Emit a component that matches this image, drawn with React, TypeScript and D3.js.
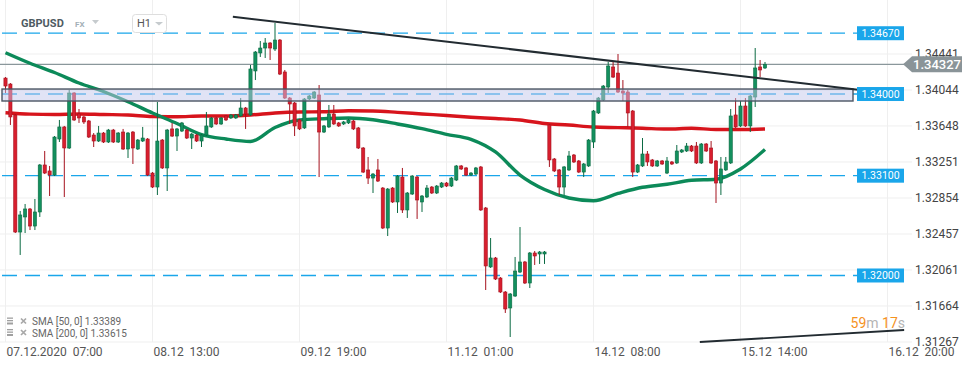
import * as d3 from "d3";

const W = 974;
const H = 368;

// hourly candles, 07.12.2020 07:00 onward
const opens = [
  1.34176, 1.34110, 1.33769, 1.32479, 1.32645, 1.32733, 1.32545, 1.32700, 1.33218, 1.33152,
  1.33107, 1.33504, 1.33637, 1.33405, 1.34011, 1.33780, 1.33747, 1.33703, 1.33548, 1.33482,
  1.33570, 1.33471, 1.33603, 1.33471, 1.33581, 1.33394, 1.33581, 1.33394, 1.33482, 1.33504,
  1.33129, 1.32975, 1.33493, 1.33185, 1.33615, 1.33537, 1.33592, 1.33603, 1.33515, 1.33548,
  1.33482, 1.33548, 1.33637, 1.33736, 1.33670, 1.33758, 1.33736, 1.33736, 1.33758, 1.33846,
  1.33769, 1.34254, 1.34452, 1.34507, 1.34562, 1.34496, 1.34595, 1.34243, 1.33956, 1.33901,
  1.33714, 1.33626, 1.33945, 1.33956, 1.33989, 1.33581, 1.33637, 1.33780, 1.33681, 1.33670,
  1.33681, 1.33703, 1.33626, 1.33405, 1.33163, 1.33074, 1.33163, 1.32964, 1.32523, 1.32964,
  1.32810, 1.33085, 1.32722, 1.32898, 1.33085, 1.32810, 1.32865, 1.32975, 1.32909, 1.32975,
  1.33019, 1.32986, 1.33052, 1.33207, 1.33185, 1.33107, 1.33118, 1.33196, 1.32744, 1.32094,
  1.32193, 1.31972, 1.31818, 1.31642, 1.31774, 1.32038, 1.32149, 1.31917, 1.32248, 1.32237,
  1.32237, 1.33659, 1.33284, 1.33163, 1.32975, 1.33163, 1.33328, 1.33262, 1.33140, 1.33207,
  1.33471, 1.33791, 1.33934, 1.34077, 1.34298, 1.34231, 1.34033, 1.34022, 1.33813, 1.33140,
  1.33207, 1.33339, 1.33273, 1.33207, 1.33262, 1.33129, 1.33251, 1.33240, 1.33361, 1.33372,
  1.33427, 1.33427, 1.33240, 1.33449, 1.33405, 1.33262, 1.33019, 1.33163, 1.33240, 1.33769,
  1.33648, 1.33868, 1.33648, 1.33967, 1.34298, 1.34287,
];
const highs = [
  1.34187, 1.34121, 1.33780, 1.32711, 1.32788, 1.32744, 1.32843, 1.33229, 1.33372, 1.33207,
  1.33537, 1.33714, 1.33648, 1.34044, 1.34022, 1.33835, 1.33758, 1.33714, 1.33570, 1.33648,
  1.33581, 1.33615, 1.33615, 1.33581, 1.33615, 1.33581, 1.33592, 1.33504, 1.33637, 1.33515,
  1.33140, 1.33912, 1.33504, 1.33615, 1.33681, 1.33626, 1.33692, 1.33615, 1.33570, 1.33559,
  1.33559, 1.33802, 1.33747, 1.33747, 1.33747, 1.33769, 1.33780, 1.33780, 1.33956, 1.33857,
  1.34320, 1.34474, 1.34584, 1.34617, 1.34573, 1.34783, 1.34606, 1.34265, 1.33967, 1.33912,
  1.33725, 1.33956, 1.33989, 1.34033, 1.34099, 1.33659, 1.33879, 1.33879, 1.33692, 1.33703,
  1.33725, 1.33714, 1.33637, 1.33416, 1.33306, 1.33129, 1.33284, 1.32975, 1.32964, 1.32975,
  1.33107, 1.33185, 1.32920, 1.33107, 1.33096, 1.32887, 1.32997, 1.32986, 1.32997, 1.33030,
  1.33030, 1.33085, 1.33218, 1.33218, 1.33196, 1.33140, 1.33196, 1.33207, 1.32755, 1.32413,
  1.32204, 1.31983, 1.31829, 1.31807, 1.32204, 1.32534, 1.32160, 1.32259, 1.32270, 1.32270,
  1.32270, 1.33670, 1.33295, 1.33174, 1.33207, 1.33372, 1.33339, 1.33273, 1.33240, 1.33504,
  1.33824, 1.33967, 1.34099, 1.34353, 1.34364, 1.34441, 1.34154, 1.34044, 1.33824, 1.33229,
  1.33515, 1.33372, 1.33284, 1.33273, 1.33273, 1.33306, 1.33262, 1.33438, 1.33394, 1.33460,
  1.33438, 1.33471, 1.33460, 1.33460, 1.33482, 1.33273, 1.33306, 1.33306, 1.33835, 1.33956,
  1.33923, 1.33956, 1.33989, 1.34507, 1.34375, 1.34353,
];
const lows = [
  1.34011, 1.33659, 1.32468, 1.32226, 1.32468, 1.32501, 1.32501, 1.32645, 1.33118, 1.32876,
  1.33096, 1.33471, 1.32865, 1.33394, 1.33703, 1.33681, 1.33670, 1.33515, 1.33416, 1.33471,
  1.33460, 1.33460, 1.33460, 1.33460, 1.33383, 1.33295, 1.33229, 1.33383, 1.33471, 1.33096,
  1.32964, 1.32887, 1.33174, 1.32931, 1.33526, 1.33372, 1.33581, 1.33504, 1.33394, 1.33471,
  1.33416, 1.33537, 1.33626, 1.33659, 1.33659, 1.33703, 1.33725, 1.33725, 1.33747, 1.33615,
  1.33758, 1.34154, 1.34408, 1.34397, 1.34375, 1.34474, 1.34209, 1.33945, 1.33670, 1.33537,
  1.33603, 1.33615, 1.33934, 1.33945, 1.33085, 1.33570, 1.33626, 1.33659, 1.33637, 1.33659,
  1.33670, 1.33603, 1.33394, 1.33129, 1.33008, 1.32909, 1.33030, 1.32512, 1.32435, 1.32799,
  1.32689, 1.32689, 1.32634, 1.32887, 1.32623, 1.32700, 1.32854, 1.32898, 1.32898, 1.32964,
  1.32975, 1.32975, 1.33041, 1.33163, 1.33096, 1.33096, 1.33107, 1.32711, 1.31840, 1.32083,
  1.31950, 1.31807, 1.31587, 1.31322, 1.31763, 1.32027, 1.31906, 1.31862, 1.32116, 1.32127,
  1.32127, 1.33196, 1.33140, 1.32887, 1.32887, 1.33152, 1.33240, 1.33129, 1.33085, 1.33196,
  1.33405, 1.33780, 1.33923, 1.34011, 1.34176, 1.34011, 1.33923, 1.33637, 1.33085, 1.33129,
  1.33196, 1.33207, 1.33196, 1.33196, 1.33218, 1.33118, 1.33218, 1.33229, 1.33350, 1.33361,
  1.33361, 1.33229, 1.33229, 1.33361, 1.33229, 1.32799, 1.32887, 1.33152, 1.33229, 1.33626,
  1.33637, 1.33637, 1.33581, 1.33857, 1.34187, 1.34276,
];
const closes = [
  1.34088, 1.33747, 1.32479, 1.32667, 1.32733, 1.32545, 1.32700, 1.33218, 1.33129, 1.33107,
  1.33526, 1.33637, 1.33405, 1.34011, 1.33714, 1.33736, 1.33692, 1.33526, 1.33482, 1.33570,
  1.33471, 1.33603, 1.33471, 1.33570, 1.33394, 1.33570, 1.33405, 1.33493, 1.33515, 1.33107,
  1.32975, 1.33482, 1.33185, 1.33603, 1.33537, 1.33615, 1.33681, 1.33515, 1.33559, 1.33482,
  1.33548, 1.33648, 1.33736, 1.33670, 1.33736, 1.33714, 1.33769, 1.33769, 1.33846, 1.33780,
  1.34276, 1.34463, 1.34507, 1.34562, 1.34507, 1.34595, 1.34220, 1.33956, 1.33890, 1.33648,
  1.33615, 1.33945, 1.33978, 1.34022, 1.33581, 1.33648, 1.33780, 1.33670, 1.33648, 1.33692,
  1.33714, 1.33615, 1.33405, 1.33140, 1.33074, 1.33118, 1.33041, 1.32523, 1.32953, 1.32810,
  1.33096, 1.32722, 1.32909, 1.33096, 1.32832, 1.32876, 1.32964, 1.32909, 1.32986, 1.33019,
  1.32986, 1.33074, 1.33207, 1.33174, 1.33107, 1.33129, 1.33185, 1.32722, 1.32105, 1.32193,
  1.31961, 1.31818, 1.31631, 1.31796, 1.32049, 1.32149, 1.31917, 1.32248, 1.32215, 1.32259,
  1.32259, 1.33273, 1.33152, 1.32975, 1.33196, 1.33317, 1.33251, 1.33140, 1.33229, 1.33493,
  1.33813, 1.33956, 1.34088, 1.34309, 1.34187, 1.34022, 1.34011, 1.33791, 1.33140, 1.33218,
  1.33339, 1.33251, 1.33207, 1.33262, 1.33229, 1.33262, 1.33229, 1.33372, 1.33383, 1.33427,
  1.33372, 1.33240, 1.33449, 1.33372, 1.33240, 1.33019, 1.33174, 1.33251, 1.33758, 1.33637,
  1.33868, 1.33648, 1.33978, 1.34287, 1.34265, 1.34327,
];

// moving averages read every 5 candles
const smaIdx = d3.range(0, 156, 5);
const sma50 = [
  1.34455, 1.34339, 1.34237, 1.34121, 1.34028, 1.33915, 1.33791, 1.33675, 1.33553, 1.33504,
  1.33477, 1.33631, 1.33714, 1.33728, 1.33736, 1.33716, 1.33670, 1.33618, 1.33556, 1.33501,
  1.33361, 1.33107, 1.32948, 1.32854, 1.32824, 1.32904, 1.32972, 1.33005, 1.33049, 1.33060,
  1.33174, 1.33389,
];
const sma200 = [
  1.33793, 1.33778, 1.33774, 1.33780, 1.33774, 1.33769, 1.33752, 1.33750, 1.33758, 1.33758,
  1.33769, 1.33791, 1.33802, 1.33804, 1.33816, 1.33813, 1.33798, 1.33780, 1.33763, 1.33744,
  1.33730, 1.33714, 1.33675, 1.33658, 1.33636, 1.33630, 1.33623, 1.33614, 1.33622, 1.33609,
  1.33609, 1.33615,
];

const yTicks = [1.34441, 1.34044, 1.33648, 1.33251, 1.32854, 1.32457, 1.32061, 1.31664, 1.31267];
const xTickIdx = [0, 30, 60, 90, 120, 150, 180];
const xTickLabels = [
  "07.12.2020  07:00",
  "08.12  13:00",
  "09.12  19:00",
  "11.12  01:00",
  "14.12  08:00",
  "15.12  14:00",
  "16.12  20:00",
];

const levels = [1.3467, 1.34, 1.331, 1.32];
const zone = [1.34055, 1.33923];
const lastPrice = 1.34327;
const resistance: [number, number][] = [[46.4, 1.34852], [174.4, 1.34044]];
const support: [number, number][] = [[141.7, 1.31267], [183.4, 1.31399]];

const FONT = "Roboto, 'Noto Sans', sans-serif";
const UP = "#13905e";
const UP_DARK = "#0b6a43";
const DOWN = "#d81e2e";
const DOWN_DARK = "#a5121e";
const BLUE = "#1aa6ea";

export default function App() {
  const x = d3.scaleLinear().domain([0, 180]).range([5.5, 887.5]);
  const y = d3.scaleLinear().domain([1.31267, 1.34441]).range([342, 54]);

  const smaLine = d3
    .line<number>()
    .x((_, i) => x(smaIdx[i]))
    .y((d) => y(d))
    .curve(d3.curveMonotoneX);

  const plotRight = 912;
  const tagX = 857;

  return (
    <svg
      width={W}
      height={H}
      style={{ position: "absolute", left: 0, top: 0, background: "#fff" }}
      fontFamily={FONT}
    >
      {/* grid */}
      {yTicks.map((t) => (
        <line key={"gy" + t} x1={0} x2={plotRight} y1={y(t)} y2={y(t)} stroke="#efefef" strokeWidth={1} />
      ))}
      {xTickIdx.map((t) => (
        <line key={"gx" + t} x1={x(t)} x2={x(t)} y1={0} y2={y(1.31267)} stroke="#efefef" strokeWidth={1} />
      ))}

      {/* price levels */}
      {levels.map((l) => (
        <line
          key={"lv" + l}
          x1={2}
          x2={tagX}
          y1={y(l)}
          y2={y(l)}
          stroke={BLUE}
          strokeWidth={1.3}
          strokeDasharray="15 8"
        />
      ))}

      {/* last price line */}
      <line x1={0} x2={905} y1={y(lastPrice)} y2={y(lastPrice)} stroke="#8a979b" strokeWidth={1.1} />

      {/* moving averages */}
      <path d={smaLine(sma200) || undefined} fill="none" stroke="#d7141c" strokeWidth={3.4} strokeLinejoin="round" />
      <path d={smaLine(sma50) || undefined} fill="none" stroke="#0c8a59" strokeWidth={3.4} strokeLinejoin="round" />

      {/* candles */}
      {opens.map((o, i) => {
        const c = closes[i];
        const up = c >= o;
        const cx = x(i);
        const top = y(Math.max(o, c));
        const bot = y(Math.min(o, c));
        return (
          <g key={"c" + i}>
            <line x1={cx} x2={cx} y1={y(highs[i])} y2={y(lows[i])} stroke={up ? UP_DARK : DOWN_DARK} strokeWidth={1} />
            <rect
              x={cx - 1.6}
              y={top}
              width={3.2}
              height={Math.max(1, bot - top)}
              fill={up ? UP : DOWN}
              stroke={up ? UP_DARK : DOWN_DARK}
              strokeWidth={0.6}
            />
          </g>
        );
      })}

      {/* zone */}
      <rect
        x={2}
        y={y(zone[0])}
        width={851}
        height={y(zone[1]) - y(zone[0])}
        fill="rgba(196,200,236,0.5)"
        stroke="#4b5563"
        strokeWidth={1.4}
      />

      {/* trend lines */}
      <line
        x1={x(resistance[0][0])}
        y1={y(resistance[0][1])}
        x2={x(resistance[1][0])}
        y2={y(resistance[1][1])}
        stroke="#222b31"
        strokeWidth={2}
      />
      <line
        x1={x(support[0][0])}
        y1={y(support[0][1])}
        x2={x(support[1][0])}
        y2={y(support[1][1])}
        stroke="#222b31"
        strokeWidth={1.8}
      />

      {/* level tags */}
      {levels.map((l) => (
        <g key={"tag" + l}>
          <rect x={tagX} y={y(l) - 7} width={47} height={14} fill={BLUE} />
          <text x={tagX + 23.5} y={y(l)} dy="0.35em" textAnchor="middle" fontSize={10.5} fill="#fff">
            {l.toFixed(5)}
          </text>
        </g>
      ))}

      {/* y axis labels */}
      {yTicks.map((t) => (
        <text key={"yl" + t} x={915} y={y(t)} dy="0.35em" fontSize={12} fill="#444">
          {t.toFixed(5)}
        </text>
      ))}

      {/* last price tag */}
      <path
        d={`M903,${y(lastPrice)} L912,${y(lastPrice) - 8} L962,${y(lastPrice) - 8} L962,${y(lastPrice) + 8} L912,${y(lastPrice) + 8} Z`}
        fill="#8a9498"
      />
      <text x={937} y={y(lastPrice)} dy="0.36em" textAnchor="middle" fontSize={13} fontWeight={500} fill="#fff">
        {lastPrice.toFixed(5)}
      </text>

      {/* x axis labels */}
      {xTickIdx.map((t, i) => (
        <text key={"xl" + t} x={x(t) + 1} y={355.5} fontSize={12} fill="#555" style={{ whiteSpace: "pre" }}>
          {xTickLabels[i]}
        </text>
      ))}

      {/* countdown */}
      <text x={905} y={327.5} textAnchor="end" fontSize={14}>
        <tspan fill="#f5921e">59</tspan>
        <tspan fill="#b4b4b4">m </tspan>
        <tspan fill="#f5921e">17</tspan>
        <tspan fill="#b4b4b4">s</tspan>
      </text>

      {/* legend */}
      {["SMA [50, 0] 1.33389", "SMA [200, 0] 1.33615"].map((s, i) => {
        const cy = 321.5 + i * 11.5;
        return (
          <g key={"lg" + i}>
            <rect x={7} y={cy - 4} width={6} height={1.3} fill="#a0a0a0" />
            <rect x={7} y={cy - 1.5} width={6} height={1.3} fill="#a0a0a0" />
            <rect x={7} y={cy + 1} width={6} height={2} fill="#a0a0a0" />
            <path
              d={`M21,${cy - 3} L26,${cy + 2} M26,${cy - 3} L21,${cy + 2}`}
              stroke="#a8a8a8"
              strokeWidth={1.7}
            />
            <text x={32} y={cy} dy="0.35em" fontSize={10} fill="#666">
              {s}
            </text>
          </g>
        );
      })}

      {/* header */}
      <text x={21} y={27} fontSize={11} fontWeight={700} fill="#4f5b62">
        GBPUSD
      </text>
      <text x={75} y={27} fontSize={8} fontWeight={700} fill="#a3b0b7">
        FX
      </text>
      <path d="M92,20 L99,20 L95.5,24 Z" fill="#c6cbce" />
      <rect x={132.5} y={14.5} width={34} height={18} rx={3} fill="#fff" stroke="#dedede" />
      <text x={137} y={27} fontSize={11} fill="#555">
        H1
      </text>
      <path d="M155,22 L163,22 L159,25.5 Z" fill="#c6cbce" />
    </svg>
  );
}
